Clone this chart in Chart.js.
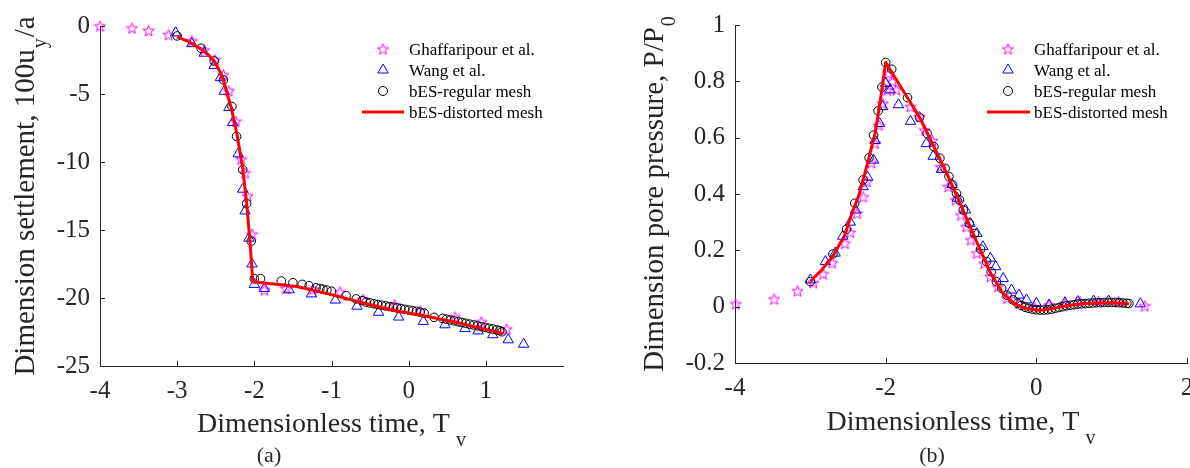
<!DOCTYPE html>
<html><head><meta charset="utf-8">
<script src="https://cdn.jsdelivr.net/npm/chart.js@4/dist/chart.umd.min.js"></script>
<style>
html,body{margin:0;padding:0;background:#fff;overflow:hidden;width:1190px;height:468px;}
#ca{position:absolute;left:0;top:0;}
#cb{position:absolute;left:590px;top:0;}
</style></head><body>
<canvas id="ca" width="590" height="468"></canvas>
<canvas id="cb" width="620" height="468"></canvas>
<script>
const seriesNames = ['Ghaffaripour et al.', 'Wang et al.', 'bES-regular mesh', 'bES-distorted mesh'];

// ---- (a) settlement ----
const aXTicks = [-4, -3, -2, -1, 0, 1];
const aYTicks = [0, -5, -10, -15, -20, -25];
const aGhaffX = [-4.0,-3.585,-3.37,-3.11,-2.81,-2.65,-2.51,-2.40,-2.33,-2.24,-2.17,-2.12,-2.09,-2.03,-1.87,-1.59,-1.24,-0.89,-0.59,-0.18,0.15,0.6,0.94,1.27];
const aGhaffY = [0,-0.15,-0.34,-0.64,-1.08,-1.76,-2.49,-3.6,-4.77,-7.0,-9.78,-10.8,-12.5,-15.3,-19.4,-19.3,-19.35,-19.55,-20.1,-20.5,-20.95,-21.4,-21.75,-22.28];
const aWangX = [-3.02,-2.81,-2.65,-2.52,-2.44,-2.39,-2.33,-2.28,-2.21,-2.15,-2.12,-2.07,-2.03,-2.0,-1.87,-1.55,-1.26,-0.95,-0.67,-0.39,-0.13,0.19,0.47,0.73,0.9,1.09,1.29,1.49];
const aWangY = [-0.5,-1.3,-2.0,-2.9,-3.8,-4.8,-6.0,-7.1,-9.4,-12.0,-13.6,-15.6,-17.5,-19.0,-19.3,-19.4,-19.7,-20.15,-20.6,-21.05,-21.4,-21.72,-21.97,-22.25,-22.42,-22.7,-23.07,-23.4];
const aRegX = [-3.0,-2.69,-2.52,-2.40,-2.29,-2.23,-2.15,-2.10,-2.04,-2.0,-1.92,-1.65,-1.5,-1.38,-1.29,-1.2,-1.15,-1.11,-1.06,-1.0,-0.81,-0.68,-0.6,
  -0.55,-0.5,-0.45,-0.4,-0.35,-0.3,-0.25,-0.2,-0.15,-0.1,-0.05,0,0.05,0.1,0.15,0.2,0.33,
  0.44,0.49,0.54,0.59,0.64,0.69,0.74,0.79,0.84,0.89,0.94,0.99,1.04,1.09,1.14,1.18,1.21];
const aRegY = [-0.73,-1.64,-2.57,-3.96,-5.92,-8.12,-10.56,-13.06,-15.82,-18.58,-18.58,-18.75,-18.87,-19.0,-19.1,-19.25,-19.3,-19.36,-19.42,-19.5,-19.83,-20.07,-20.2,
  -20.3,-20.36,-20.42,-20.48,-20.53,-20.58,-20.63,-20.68,-20.73,-20.78,-20.83,-20.88,-20.93,-20.98,-21.04,-21.1,-21.42,
  -21.5,-21.56,-21.62,-21.68,-21.74,-21.8,-21.86,-21.92,-21.98,-22.04,-22.1,-22.16,-22.22,-22.28,-22.34,-22.4,-22.48];
const aDistX = [-3.0,-2.85,-2.7,-2.6,-2.52,-2.45,-2.4,-2.35,-2.3,-2.22,-2.15,-2.1,-2.06,-2.02,-1.45,-1.0,-0.6,-0.2,0.2,0.7,1.22];
const aDistY = [-0.8,-1.15,-1.65,-2.1,-2.6,-3.3,-4.0,-5.0,-6.0,-8.1,-10.5,-13.0,-15.6,-18.8,-19.15,-19.75,-20.35,-20.9,-21.3,-21.9,-22.6];

// ---- (b) pore pressure ----
const bXTicks = [-4, -2, 0, 2];
const bYTicks = [1, 0.8, 0.6, 0.4, 0.2, 0, -0.2];
const bGhaffX = [-3.99,-3.48,-3.17,-2.96,-2.83,-2.71,-2.54,-2.47,-2.38,-2.30,-2.25,-2.19,-2.14,-2.09,-2.04,-1.98,-1.96,-1.91,-1.86,-1.67,-1.55,-1.48,-1.38,-1.27,-1.17,-1.07,-1.0,-0.93,-0.87,-0.79,-0.69,-0.61,-0.51,-0.39,-0.23,-0.03,0.17,0.38,0.58,0.83,1.09,1.44];
const bGhaffY = [0.01,0.027,0.056,0.085,0.116,0.156,0.225,0.264,0.331,0.39,0.444,0.511,0.58,0.645,0.722,0.769,0.828,0.8,0.77,0.71,0.675,0.627,0.59,0.497,0.426,0.379,0.325,0.284,0.237,0.19,0.154,0.107,0.071,0.03,0.012,0.0,0.006,0.012,0.018,0.018,0.018,0.003];
const bWangX = [-3.0,-2.8,-2.67,-2.57,-2.47,-2.4,-2.3,-2.24,-2.16,-2.14,-2.08,-2.04,-2.0,-1.94,-1.83,-1.67,-1.46,-1.37,-1.26,-1.12,-1.05,-0.94,-0.88,-0.79,-0.71,-0.61,-0.54,-0.44,-0.33,-0.23,-0.13,0.0,0.17,0.38,0.55,0.76,0.96,1.38];
const bWangY = [0.095,0.16,0.19,0.25,0.30,0.343,0.426,0.46,0.52,0.59,0.65,0.71,0.793,0.77,0.717,0.658,0.579,0.534,0.487,0.434,0.385,0.343,0.296,0.26,0.213,0.172,0.142,0.1,0.059,0.041,0.024,0.012,0.006,0.014,0.018,0.02,0.02,0.01];
const bRegX = [-3.0,-2.70,-2.52,-2.41,-2.30,-2.22,-2.16,-2.10,-2.05,-2.0,-1.92,-1.71,-1.55,-1.45,-1.36,-1.28,-1.21,-1.16,-1.11,-1.06,-1.02,-0.97,-0.89,-0.82,-0.74,-0.66,-0.6,-0.53,-0.46,-0.39,-0.31,
  -0.25,-0.2,-0.15,-0.1,-0.05,0,0.05,0.1,0.15,0.2,0.25,0.3,0.35,0.4,0.45,0.5,0.55,0.6,0.65,0.7,0.75,0.8,0.85,0.9,0.95,1.0,1.05,1.1,1.15,1.2,1.23];
const bRegY = [0.089,0.187,0.275,0.367,0.45,0.529,0.609,0.695,0.779,0.867,0.843,0.742,0.672,0.615,0.568,0.527,0.491,0.462,0.432,0.402,0.379,0.343,0.296,0.26,0.204,0.16,0.124,0.089,0.065,0.041,0.024,
  0.012,0.004,-0.002,-0.006,-0.009,-0.011,-0.012,-0.012,-0.011,-0.009,-0.006,-0.003,0.0,0.003,0.005,0.007,0.009,0.010,0.011,0.012,0.013,0.014,0.014,0.015,0.015,0.015,0.015,0.014,0.013,0.012,0.011];
const bDistX = [-3.0,-2.85,-2.7,-2.55,-2.45,-2.35,-2.25,-2.14,-2.07,-2.0,-1.71,-1.55,-1.4,-1.2,-1.0,-0.8,-0.6,-0.45,-0.3,-0.15,0.0,0.1,0.25,0.4,0.6,0.8,1.0,1.23];
const bDistY = [0.09,0.13,0.18,0.25,0.33,0.40,0.5,0.616,0.734,0.867,0.742,0.672,0.59,0.48,0.36,0.235,0.115,0.05,0.012,-0.005,-0.012,-0.012,-0.005,0.003,0.01,0.013,0.014,0.01];

// ---- helpers ----
const AX = '#262626';
const SERIF = '"Liberation Serif", "Times New Roman", serif';
function pts(xs, ys) { return xs.map((x, i) => ({ x: x, y: ys[i] })); }
function fmt(v) { return String(Math.round(v * 10) / 10); }

function makeStar() {
  const s = 15, c = document.createElement('canvas');
  c.width = s; c.height = s;
  const g = c.getContext('2d');
  g.strokeStyle = '#ff00ff'; g.lineWidth = 1;
  g.beginPath();
  const R = 6, r = 2.4;
  for (let k = 0; k < 10; k++) {
    const ang = -Math.PI / 2 + k * Math.PI / 5;
    const rr = (k % 2) ? r : R;
    const px = s / 2 + rr * Math.cos(ang), py = s / 2 + 0.6 + rr * Math.sin(ang);
    if (k) g.lineTo(px, py); else g.moveTo(px, py);
  }
  g.closePath(); g.stroke();
  return c;
}
const starImg = makeStar();

function partsWidth(ctx, parts) {
  let w = 0;
  parts.forEach(p => { ctx.font = p.font; w += (p.pre || 0) + ctx.measureText(p.t).width; });
  return w;
}
function drawParts(ctx, x, y, parts) {
  parts.forEach(p => {
    ctx.font = p.font; x += (p.pre || 0);
    ctx.fillText(p.t, x, y + (p.dy || 0));
    x += ctx.measureText(p.t).width;
  });
}

const innerTicks = {
  id: 'innerTicks',
  afterDraw(chart) {
    const { ctx, chartArea: ca, scales: { x, y } } = chart;
    ctx.save(); ctx.strokeStyle = AX; ctx.lineWidth = 1; ctx.beginPath();
    x.ticks.forEach(t => { const px = Math.round(x.getPixelForValue(t.value)) + 0.5; ctx.moveTo(px, ca.bottom); ctx.lineTo(px, ca.bottom - 5); });
    y.ticks.forEach(t => { const py = Math.round(y.getPixelForValue(t.value)) + 0.5; ctx.moveTo(ca.left, py); ctx.lineTo(ca.left + 5, py); });
    ctx.stroke(); ctx.restore();
  }
};

const textPlugin = {
  id: 'textPlugin',
  afterDraw(chart, args, o) {
    const ctx = chart.ctx, ca = chart.chartArea;
    ctx.save();
    ctx.fillStyle = AX; ctx.textBaseline = 'alphabetic'; ctx.textAlign = 'left';
    // x title
    const xw = partsWidth(ctx, o.xParts);
    drawParts(ctx, (ca.left + ca.right) / 2 - xw / 2, o.xBase, o.xParts);
    // y title (rotated)
    const yw = partsWidth(ctx, o.yParts);
    ctx.save();
    ctx.translate(o.yBase, (ca.top + ca.bottom) / 2);
    ctx.rotate(-Math.PI / 2);
    drawParts(ctx, -yw / 2, 0, o.yParts);
    ctx.restore();
    // panel label
    ctx.font = '22px ' + SERIF; ctx.textAlign = 'center';
    ctx.fillText(o.panel, o.panelX, o.panelBase);
    // legend
    const L = o.legend;
    ctx.font = '17px ' + SERIF; ctx.textAlign = 'left'; ctx.fillStyle = '#000';
    const ds = chart.data.datasets;
    ds.forEach((d, i) => {
      const base = L.base0 + i * L.dy;
      const my = base - 6;
      ctx.fillStyle = '#000';
      ctx.fillText(d.label, L.tx, base);
      ctx.save();
      if (i === 0) {
        ctx.drawImage(starImg, L.mx - starImg.width / 2, my - starImg.height / 2);
      } else if (i === 1) {
        const r = 6;
        ctx.strokeStyle = '#0000ff'; ctx.lineWidth = 1; ctx.beginPath();
        for (let k = 0; k < 3; k++) {
          const a = k * 2 * Math.PI / 3;
          const px = L.mx + Math.sin(a) * r, py = my - Math.cos(a) * r;
          if (k) ctx.lineTo(px, py); else ctx.moveTo(px, py);
        }
        ctx.closePath(); ctx.stroke();
      } else if (i === 2) {
        ctx.strokeStyle = '#000'; ctx.lineWidth = 1; ctx.beginPath();
        ctx.arc(L.mx, my, 4.5, 0, Math.PI * 2); ctx.stroke();
      } else {
        ctx.strokeStyle = '#ff0000'; ctx.lineWidth = 3; ctx.beginPath();
        ctx.moveTo(L.lx0, my); ctx.lineTo(L.lx1, my); ctx.stroke();
      }
      ctx.restore();
    });
    ctx.restore();
  }
};

function axisOpts(min, max, ticks, fitFn, pad) {
  return {
    type: 'linear', min: min, max: max,
    afterBuildTicks: s => { s.ticks = ticks.map(v => ({ value: v })); },
    afterFit: fitFn,
    grid: { display: true, drawOnChartArea: false, drawTicks: false },
    border: { display: true, color: AX, width: 1 },
    ticks: { font: { family: SERIF, size: 25 }, color: AX, padding: pad, maxRotation: 0, autoSkip: false, callback: v => fmt(v) }
  };
}

function makeChart(id, c) {
  return new Chart(document.getElementById(id), {
    type: 'scatter',
    data: {
      datasets: [
        { label: seriesNames[0], data: pts(c.gx, c.gy), pointStyle: starImg, pointRadius: 6, showLine: false, order: 3, clip: false },
        { label: seriesNames[1], data: pts(c.wx, c.wy), pointStyle: 'triangle', pointRadius: 6, borderColor: '#0000ff', backgroundColor: 'rgba(0,0,0,0)', borderWidth: 1, showLine: false, order: 2, clip: false },
        { label: seriesNames[2], data: pts(c.rx, c.ry), pointStyle: 'circle', pointRadius: 4.3, borderColor: '#000000', backgroundColor: 'rgba(0,0,0,0)', borderWidth: 1, showLine: false, order: 1, clip: false },
        { label: seriesNames[3], data: pts(c.dx, c.dy), showLine: true, borderColor: '#ff0000', borderWidth: 3, pointRadius: 0, tension: 0, order: 0, clip: false, borderJoinStyle: 'round' }
      ]
    },
    options: {
      responsive: false, animation: false, events: [],
      layout: { padding: { left: 0, right: c.padR, top: c.padT, bottom: 0 } },
      plugins: { legend: { display: false }, tooltip: { enabled: false }, textPlugin: c.text },
      scales: {
        x: axisOpts(c.xmin, c.xmax, c.xTicks, s => { s.height = c.xH; s.paddingLeft = 0; s.paddingRight = 0; }, 10),
        y: axisOpts(c.ymin, c.ymax, c.yTicks, s => { s.width = c.yW; s.paddingTop = 0; s.paddingBottom = 0; }, 10)
      }
    },
    plugins: [innerTicks, textPlugin]
  });
}

makeChart('ca', {
  gx: aGhaffX, gy: aGhaffY, wx: aWangX, wy: aWangY, rx: aRegX, ry: aRegY, dx: aDistX, dy: aDistY,
  xmin: -4, xmax: 2, ymin: -25, ymax: 0, xTicks: aXTicks, yTicks: aYTicks,
  padR: 27, padT: 26, xH: 102, yW: 100,
  text: {
    xParts: [{ t: 'Dimensionless time, T', font: '28px ' + SERIF }, { t: 'v', font: '20px ' + SERIF, dy: 14, pre: 6 }],
    xBase: 432,
    yParts: [{ t: 'Dimension settlement, 100u', font: '29px ' + SERIF }, { t: 'y', font: '20px ' + SERIF, dy: 12, pre: 1 }, { t: '/a', font: '29px ' + SERIF, pre: 1 }],
    yBase: 34,
    panel: '(a)', panelX: 269, panelBase: 462,
    legend: { mx: 383, tx: 409, lx0: 362, lx1: 404, base0: 55, dy: 21 }
  }
});

makeChart('cb', {
  gx: bGhaffX, gy: bGhaffY, wx: bWangX, wy: bWangY, rx: bRegX, ry: bRegY, dx: bDistX, dy: bDistY,
  xmin: -4, xmax: 2, ymin: -0.2, ymax: 1, xTicks: bXTicks, yTicks: bYTicks,
  padR: 23, padT: 25, xH: 105, yW: 145,
  text: {
    xParts: [{ t: 'Dimensionless time, T', font: '28px ' + SERIF }, { t: 'v', font: '20px ' + SERIF, dy: 14, pre: 6 }],
    xBase: 430,
    yParts: [{ t: 'Dimension pore pressure, P/P', font: '29px ' + SERIF }, { t: '0', font: '20px ' + SERIF, dy: 12, pre: 1 }],
    yBase: 73,
    panel: '(b)', panelX: 342, panelBase: 462,
    legend: { mx: 418, tx: 444, lx0: 397, lx1: 440, base0: 55, dy: 21 }
  }
});
</script>
</body></html>
